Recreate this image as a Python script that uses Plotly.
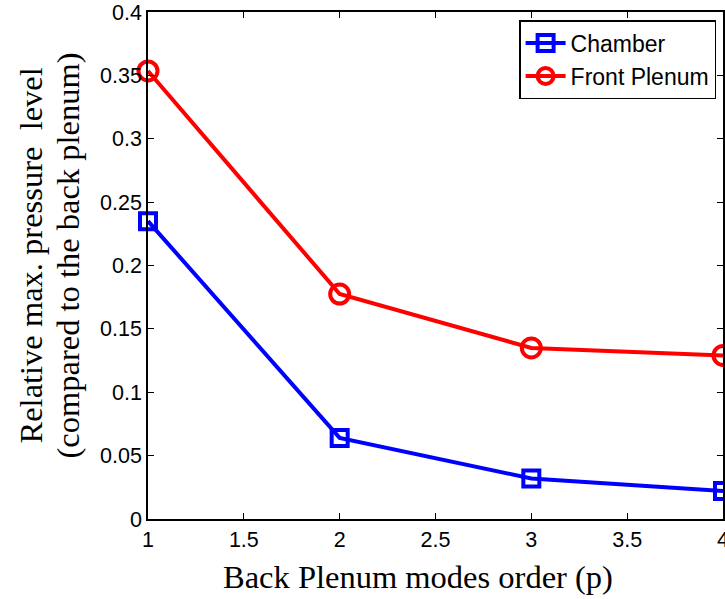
import plotly.graph_objects as go

x_order = [1, 2, 3, 4]
chamber = [0.235, 0.064, 0.032, 0.022]
front_plenum = [0.3535, 0.1775, 0.135, 0.129]

x_title = "Back Plenum modes order (p)"
y_title_1 = "Relative max. pressure\u00a0 level"
y_title_2 = "(compared to the back plenum)"

fig = go.Figure()
fig.add_trace(go.Scatter(x=x_order, y=chamber, name="Chamber", mode="lines+markers",
                         line=dict(color="#0000ff", width=4),
                         marker=dict(symbol="square-open", size=16, color="#0000ff", line=dict(width=4)),
                         cliponaxis=False))
fig.add_trace(go.Scatter(x=x_order, y=front_plenum, name="Front Plenum", mode="lines+markers",
                         line=dict(color="#ff0000", width=4),
                         marker=dict(symbol="circle-open", size=19, color="#ff0000", line=dict(width=4)),
                         cliponaxis=False))

title_font = dict(family="Liberation Serif, Times New Roman, serif", size=32.5, color="black")

fig.update_layout(
    width=725, height=599,
    margin=dict(l=148, r=2, t=12, b=80, autoexpand=False),
    paper_bgcolor="white", plot_bgcolor="white",
    font=dict(family="Liberation Sans, Arial, sans-serif", size=21.5, color="black"),
    legend=dict(x=0.988, y=0.984, xanchor="right", yanchor="top",
                bgcolor="white", bordercolor="black", borderwidth=1.5,
                font=dict(size=23), tracegroupgap=0, itemwidth=40),
    showlegend=True,
    annotations=[
        dict(text=x_title, xref="paper", yref="paper", x=0.4696, y=0, xanchor="center",
             yanchor="middle", yshift=-58, showarrow=False, font=title_font),
        dict(text=y_title_1, xref="paper", yref="paper", x=0, y=0.5, xanchor="center",
             yanchor="middle", xshift=-118, yshift=10, textangle=-90, showarrow=False, font=title_font),
        dict(text=y_title_2, xref="paper", yref="paper", x=0, y=0.5, xanchor="center",
             yanchor="middle", xshift=-81, yshift=10, textangle=-90, showarrow=False, font=title_font),
    ],
)
fig.update_xaxes(range=[1, 4], dtick=0.5, showline=True, linecolor="black", linewidth=1.5,
                 mirror="ticks", ticks="inside", ticklen=6, tickcolor="black",
                 showgrid=False, zeroline=False, ticklabeloverflow="allow", automargin=False)
fig.update_yaxes(range=[0, 0.4], dtick=0.05, showline=True, linecolor="black", linewidth=1.5,
                 mirror="ticks", ticks="inside", ticklen=6, tickcolor="black",
                 showgrid=False, zeroline=False, ticklabeloverflow="allow", automargin=False)

fig.write_html("out.html", config={"displayModeBar": False},
               post_script="document.body.style.margin='0';document.body.style.overflow='hidden';")
